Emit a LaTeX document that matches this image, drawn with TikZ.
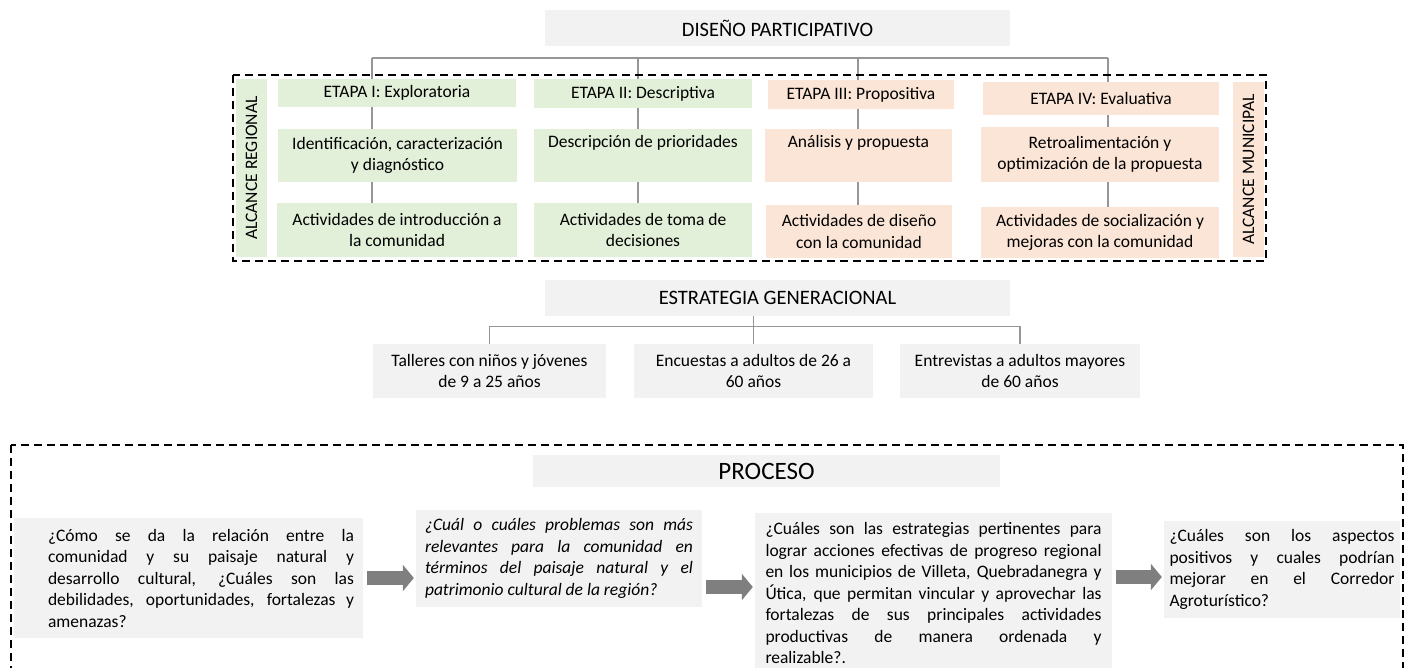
\documentclass[tikz,border=0pt]{standalone}
\usepackage{fontspec}
\setmainfont{Carlito}
\usepackage{xcolor}
\usepackage{tikz}
\usetikzlibrary{arrows.meta, positioning}
\definecolor{boxgrey}{RGB}{242,242,242}
\definecolor{stagegreen}{RGB}{226,239,217}
\definecolor{stageorange}{RGB}{251,229,214}
\definecolor{linkgrey}{RGB}{150,150,150}
\definecolor{arrowgrey}{RGB}{127,127,127}
\newcommand*\Txt{\fontsize{17.5}{21.5}\selectfont}
\newcommand*\Head{\fontsize{20.5}{24}\selectfont}
\hyphenpenalty=10000
\exhyphenpenalty=10000
\tikzstyle{head-box} = [rectangle, fill=boxgrey, inner sep=0pt, font=\Head, text centered]
\tikzstyle{green-box} = [rectangle, fill=stagegreen, inner sep=0pt, font=\Txt, align=center]
\tikzstyle{orange-box} = [rectangle, fill=stageorange, inner sep=0pt, font=\Txt, align=center]
\tikzstyle{grey-box} = [rectangle, fill=boxgrey, inner sep=0pt, font=\Txt, align=center]
\tikzstyle{question} = [rectangle, fill=boxgrey, inner ysep=0pt, font=\Txt, align=justify]
\tikzstyle{link} = [draw=linkgrey, line width=1.3pt]
\tikzstyle{dash-frame} = [draw=black, line width=2pt, dash pattern=on 8pt off 5pt]
\tikzstyle{block-arrow} = [draw=arrowgrey, line width=14pt, -{Triangle[length=11pt, width=26pt]}, shorten <=4pt, shorten >=2pt]

\begin{document}
\begin{tikzpicture}[x=1pt, y=-1pt]
  \useasboundingbox (0,0) rectangle (1413,668);

  % Diseño participativo
  \node (dis) [head-box, minimum width=465, minimum height=36] at (777.5,28) {DISEÑO PARTICIPATIVO};

  \node (alcr) [green-box, rotate=90, minimum width=178, minimum height=31] at (251.5,168) {ALCANCE REGIONAL};
  \node (e1) [green-box, minimum width=238, minimum height=28] at (397,93) {ETAPA I: Exploratoria};
  \node (id1) [green-box, minimum width=239, minimum height=53] at (397.5,155.5) {Identificación, caracterización\\ y diagnóstico};
  \node (a1) [green-box, minimum width=240, minimum height=54] at (397,230) {Actividades de introducción a\\ la comunidad};
  \node (e2) [green-box, minimum width=218, minimum height=29] at (643,93.5) {ETAPA II: Descriptiva};
  \node (d2) [green-box, minimum width=218, minimum height=53] at (643,155.5) {Descripción de prioridades\\ \strut};
  \node (a2) [green-box, minimum width=218, minimum height=54] at (643,230) {Actividades de toma de\\ decisiones};
  \node (e3) [orange-box, minimum width=186, minimum height=29] at (861,94.5) {ETAPA III: Propositiva};
  \node (d3) [orange-box, minimum width=187, minimum height=53] at (858.5,155.5) {Análisis y propuesta\\ \strut};
  \node (a3) [orange-box, minimum width=186, minimum height=53] at (859,231.5) {Actividades de diseño\\ con la comunidad};
  \node (e4) [orange-box, minimum width=236, minimum height=33] at (1101,98.5) {ETAPA IV: Evaluativa};
  \node (d4) [orange-box, minimum width=238, minimum height=55] at (1100,154.5) {Retroalimentación y\\ optimización de la propuesta};
  \node (a4) [orange-box, minimum width=238, minimum height=51] at (1100,232.5) {Actividades de socialización y\\ mejoras con la comunidad};
  \node (alcm) [orange-box, rotate=90, minimum width=175, minimum height=31] at (1248.5,169.5) {ALCANCE MUNICIPAL};

  \coordinate (bus1) at (372,58);
  \coordinate (bus2) at (638,58);
  \coordinate (bus3) at (858,58);
  \coordinate (bus4) at (1108,58);
  \draw[link] (bus1) -- (bus4);
  \draw[link] (bus1) -- (bus1 |- e1.north) (e1.south -| bus1) -- (id1.north -| bus1) (id1.south -| bus1) -- (a1.north -| bus1);
  \draw[link] (bus2) -- (bus2 |- e2.north) (e2.south -| bus2) -- (d2.north -| bus2) (d2.south -| bus2) -- (a2.north -| bus2);
  \draw[link] (bus3) -- (bus3 |- e3.north) (e3.south -| bus3) -- (d3.north -| bus3) (d3.south -| bus3) -- (a3.north -| bus3);
  \draw[link] (bus4) -- (bus4 |- e4.north) (e4.south -| bus4) -- (d4.north -| bus4) (d4.south -| bus4) -- (a4.north -| bus4);

  \draw[dash-frame] (233,75) rectangle (1266,261);

  % Estrategia generacional
  \node (est) [head-box, minimum width=465, minimum height=36] at (777.5,298) {ESTRATEGIA GENERACIONAL};
  \node (t1) [grey-box, minimum width=233, minimum height=54] at (489.5,371) {Talleres con niños y jóvenes\\ de 9 a 25 años};
  \node (t2) [grey-box, minimum width=239, minimum height=54] at (753.5,371) {Encuestas a adultos de 26 a\\ 60 años};
  \node (t3) [grey-box, minimum width=240, minimum height=54] at (1020,371) {Entrevistas a adultos mayores\\ de 60 años};

  \draw[link] (t1.north) -- ++(0,-17) -| (t3.north);
  \draw[link] (est.south -| t2.north) -- (t2.north);

  % Proceso
  \node (proc) [head-box, font=\fontsize{25}{29}\selectfont, minimum width=467, minimum height=32] at (766.5,471) {PROCESO};
  \node (q1) [question, inner xsep=9, minimum width=349, minimum height=120] at (188.5,578) {\hspace*{25pt}\parbox{306pt}{¿Cómo se da la relación entre la\linebreak comunidad y su paisaje natural y\linebreak desarrollo cultural, ¿Cuáles son las\linebreak debilidades, oportunidades, fortalezas~y\linebreak amenazas?}};
  \node (q2) [question, font=\Txt\itshape, text width=268, inner xsep=9, minimum height=97] at (559,558.5) {¿Cuál o cuáles problemas son más\linebreak relevantes para la comunidad en\linebreak términos del paisaje natural y el\linebreak patrimonio cultural de la región?};
  \node (q3) [question, text width=336, inner xsep=10.5, minimum height=160] at (933.5,593) {¿Cuáles son las estrategias pertinentes para\linebreak lograr acciones efectivas de progreso regional\linebreak en los municipios de Villeta, Quebradanegra~y\linebreak Útica, que permitan vincular y aprovechar las\linebreak fortalezas de sus principales actividades\linebreak productivas de manera ordenada~y\linebreak realizable?.};
  \node (q4) [question, text width=225, inner xsep=5.5, minimum height=97] at (1282,569.5) {¿Cuáles son los aspectos\linebreak positivos y cuales podrían\linebreak mejorar en el Corredor\linebreak Agroturístico?};

  \draw[block-arrow] (q1.east) -- (q1.east -| q2.west);
  \coordinate (arr2) at ([yshift=6pt]q3.west);
  \draw[block-arrow] (arr2 -| q2.east) -- (arr2);
  \coordinate (arr3) at ([yshift=-7.5pt]q4.west);
  \draw[block-arrow] (arr3 -| q3.east) -- (arr3);

  \draw[dash-frame] (11,445) rectangle (1403,700);

\end{tikzpicture}
\end{document}
